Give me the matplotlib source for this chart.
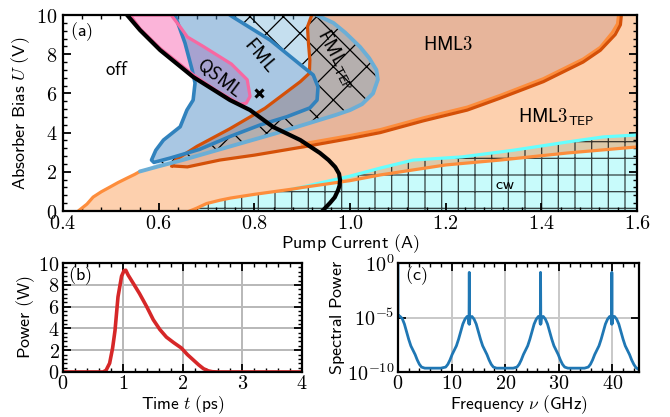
import numpy as np
import matplotlib
matplotlib.use("Agg")
import matplotlib.pyplot as plt
from matplotlib.patches import Polygon
from matplotlib.ticker import MultipleLocator, FixedLocator

plt.rcParams['mathtext.fontset'] = 'cm'
plt.rcParams['font.family'] = 'DejaVu Sans'
plt.rcParams['hatch.linewidth'] = 0.9

# ---------------- panel (a) data ----------------
# left (orange) branch of HML3_TEP boundary
tep_left_x = [0.432, 0.45, 0.463, 0.48, 0.498, 0.515, 0.534, 0.55, 0.561]
tep_left_y = [0.0, 0.35, 0.71, 0.98, 1.22, 1.45, 1.68, 1.87, 2.02]
# lower orange boundary of HML3_TEP
tep_low_x = [0.665, 0.68, 0.70, 0.728, 0.75, 0.8, 0.88, 0.9, 1.0, 1.063, 1.2, 1.314, 1.454, 1.6]
tep_low_y = [0.0, 0.15, 0.38, 0.55, 0.66, 0.85, 1.12, 1.2, 1.55, 1.84, 2.35, 2.6, 2.96, 3.27]
# upper orange boundary of HML3_TEP (next to HML3 edge)
tep_up_x = [0.9, 1.0, 1.063, 1.153, 1.245, 1.314, 1.404, 1.487, 1.523, 1.548, 1.559, 1.561]
tep_up_y = [3.42, 3.85, 4.15, 4.75, 5.3, 5.9, 6.75, 7.75, 8.35, 9.1, 9.55, 10.0]
# cyan boundary of cw region
cw_x = [0.88, 0.9, 0.95, 1.0, 1.063, 1.132, 1.234, 1.341, 1.454, 1.529, 1.6]
cw_y = [1.12, 1.22, 1.5, 1.78, 2.19, 2.6, 2.76, 3.1, 3.52, 3.78, 3.88]
# FML_TEP outline: tip -> lower edge -> right edge -> top
fmltep_x = [0.561, 0.6, 0.65, 0.75, 0.85, 0.93, 0.97, 1.0, 1.025, 1.048, 1.058, 1.055, 1.04, 1.021, 0.99, 0.965, 0.93]
fmltep_y = [2.02, 2.28, 2.6, 3.3, 4.0, 4.6, 4.9, 5.15, 5.45, 6.0, 6.7, 7.2, 7.8, 8.37, 9.1, 9.6, 10.0]
# FML outline (closed)
fml_x = [0.634, 0.655, 0.670, 0.676, 0.672, 0.659, 0.645, 0.61, 0.594, 0.585, 0.59, 0.624, 0.686,
         0.749, 0.812, 0.868, 0.916, 0.931, 0.933, 0.923, 0.902, 0.833, 0.755, 0.749]
fml_y = [10.0, 8.57, 7.19, 6.53, 5.66, 5.15, 4.3, 3.62, 3.1, 2.6, 2.48, 2.7, 3.15,
         3.8, 4.39, 4.81, 5.26, 5.66, 6.33, 6.94, 7.35, 8.72, 9.9, 10.0]
# HML3 boundary (dark orange): lower/right edge and upper/left edge
hml3_low_x = [0.628, 0.66, 0.728, 0.8, 0.902, 1.0, 1.063, 1.153, 1.245, 1.314, 1.404, 1.487, 1.523, 1.554, 1.565, 1.567]
hml3_low_y = [2.3, 2.25, 2.6, 2.85, 3.27, 3.7, 4.0, 4.6, 5.15, 5.76, 6.6, 7.6, 8.2, 9.0, 9.5, 10.0]
hml3_up_x = [0.92, 0.911, 0.913, 0.916, 0.915, 0.896, 0.822, 0.749, 0.68, 0.635, 0.628]
hml3_up_y = [10.0, 9.4, 8.56, 7.7, 7.03, 6.6, 5.24, 4.2, 3.3, 2.6, 2.3]
# QSML region (closed)
qsml_x = [0.54, 0.626, 0.645, 0.66, 0.693, 0.752, 0.785, 0.791, 0.783, 0.77, 0.72, 0.672, 0.603, 0.561]
qsml_y = [10.0, 10.0, 9.39, 8.88, 8.4, 7.5, 6.7, 5.85, 5.5, 5.45, 6.15, 6.95, 8.3, 9.3]
# black curve
black_x = [0.534, 0.561, 0.603, 0.672, 0.749, 0.791, 0.839, 0.896, 0.937, 0.955, 0.969, 0.977, 0.979, 0.978, 0.975, 0.968, 0.958, 0.942]
black_y = [10.0, 9.23, 8.21, 6.84, 5.66, 5.15, 4.29, 3.62, 2.96, 2.6, 2.24, 1.9, 1.58, 1.3, 1.07, 0.7, 0.41, 0.0]
# marked operating point
mark_x, mark_y = 0.81, 6.0

a_xticks = [0.4, 0.6, 0.8, 1.0, 1.2, 1.4, 1.6]
a_xticklabels = ['$0.4$', '$0.6$', '$0.8$', '$1.0$', '$1.2$', '$1.4$', '$1.6$']
a_yticks = [0, 2, 4, 6, 8, 10]
a_yticklabels = ['$0$', '$2$', '$4$', '$6$', '$8$', '$10$']

# ---------------- panel (b) data ----------------
t_ps = [0, 0.5, 0.67, 0.72, 0.78, 0.83, 0.87, 0.92, 0.98, 1.02, 1.05, 1.09, 1.18, 1.28, 1.4,
        1.51, 1.62, 1.73, 1.85, 1.98, 2.08, 2.18, 2.27, 2.35, 2.43, 2.5, 2.6, 3.0, 4.0]
power_W = [0, 0, 0, 0.15, 0.8, 2.2, 3.8, 6.9, 8.8, 9.3, 9.35, 8.9, 8.1, 7.2, 6.0,
           4.8, 3.9, 3.2, 2.7, 2.2, 1.6, 1.1, 0.65, 0.3, 0.1, 0.02, 0, 0, 0]
b_xticks = [0, 1, 2, 3, 4]
b_xticklabels = ['$0$', '$1$', '$2$', '$3$', '$4$']
b_yticks = [0, 2, 4, 6, 8, 10]
b_yticklabels = ['$0$', '$2$', '$4$', '$6$', '$8$', '$10$']

# ---------------- panel (c) data ----------------
freq_GHz = [0.0, 0.0, 0.1, 0.4, 0.8, 1.2, 1.6, 2.0, 2.4, 2.8, 3.2, 3.6, 4.0, 4.4, 5.0, 6.0, 7.0, 8.0,
            8.9, 9.3, 9.7, 10.1, 10.5, 10.9, 11.3, 11.7, 12.1, 12.5, 12.9, 13.15, 13.25, 13.3, 13.35, 13.45,
            13.8, 14.2, 14.6, 15.0, 15.4, 15.8, 16.2, 16.6, 17.0, 17.4, 17.8, 18.4, 19.5, 20.5, 21.5,
            22.2, 22.6, 23.0, 23.4, 23.8, 24.2, 24.6, 25.0, 25.4, 25.8, 26.2, 26.45, 26.55, 26.6, 26.65, 26.75,
            27.1, 27.5, 27.9, 28.3, 28.7, 29.1, 29.5, 29.9, 30.3, 30.7, 31.1, 31.7, 32.8, 33.8, 34.8,
            35.5, 35.9, 36.3, 36.7, 37.1, 37.5, 37.9, 38.3, 38.7, 39.1, 39.5, 39.75, 39.85, 39.9, 39.95, 40.05,
            40.4, 40.8, 41.2, 41.6, 42.0, 42.4, 42.8, 43.2, 43.6, 44.0, 44.4, 45.0]
log10_power = [0.0, -4.8, -4.8, -4.9, -5.1, -5.6, -6.3, -7.0, -7.6, -8.0, -8.4, -8.9, -9.3, -9.55, -9.65, -9.65, -9.65, -9.65,
               -9.55, -9.3, -8.9, -8.4, -8.0, -7.6, -7.0, -6.3, -5.6, -5.15, -4.9, -4.95, -5.6, -0.85, -5.6, -5.0,
               -4.9, -5.15, -5.6, -6.3, -7.0, -7.6, -8.0, -8.4, -8.9, -9.3, -9.55, -9.65, -9.65, -9.65, -9.65,
               -9.55, -9.3, -8.9, -8.4, -8.0, -7.6, -7.0, -6.3, -5.6, -5.15, -4.9, -4.95, -5.6, -0.85, -5.6, -5.0,
               -4.9, -5.15, -5.6, -6.3, -7.0, -7.6, -8.0, -8.4, -8.9, -9.3, -9.55, -9.65, -9.65, -9.65, -9.65,
               -9.55, -9.3, -8.9, -8.4, -8.0, -7.6, -7.0, -6.3, -5.6, -5.15, -4.9, -4.95, -5.6, -0.85, -5.6, -5.0,
               -4.9, -5.15, -5.6, -6.3, -7.0, -7.6, -8.0, -8.4, -8.9, -9.3, -9.6, -9.8]
c_xticks = [0, 10, 20, 30, 40]
c_xticklabels = ['$0$', '$10$', '$20$', '$30$', '$40$']
c_yticks = [1e-10, 1e-5, 1e0]
c_yticklabels = ['$10^{-10}$', '$10^{-5}$', '$10^{0}$']

# ---------------- colours ----------------
C_PEACH = '#fdd0ae'
C_SALMON = '#e7b59b'
C_CWFILL = '#c8fbfb'
C_BAND = '#dcc9a9'
C_ORANGE = '#fd8d3c'
C_DORANGE = '#d45008'
C_CYAN = '#66ffff'
C_FML = '#5591c9'
C_FMLTEP = '#59a6d3'
C_FMLTEP_LINE = '#6baed6'
C_FML_LINE = '#3182bd'
C_PINKFILL = '#fbb4d9'
C_PINKLINE = '#f768a1'

FS_LAB = 13
FS_LAB_LOW = 12.5
FS_TICK = 14.5
FS_REG = 13.5

fig = plt.figure(figsize=(6.7, 4.17), dpi=100)
axA = fig.add_axes([0.094, 0.494, 0.857, 0.470])
axB = fig.add_axes([0.094, 0.108, 0.357, 0.261])
axC = fig.add_axes([0.594, 0.108, 0.360, 0.261])

def pts(xs, ys):
    return np.column_stack([np.asarray(xs, float), np.asarray(ys, float)])

def add_poly(ax, xy, **kw):
    p = Polygon(xy, closed=True, **kw)
    ax.add_patch(p)
    return p

LW = 2.3
# HML3_TEP region (peach)
peach_xy = np.vstack([pts(tep_left_x, tep_left_y), pts(fmltep_x, fmltep_y),
                      pts([1.6, 1.6], [10.0, 3.27]), pts(tep_low_x[::-1], tep_low_y[::-1])])
add_poly(axA, peach_xy, facecolor=C_PEACH, edgecolor='none', zorder=1)

# cw region (cyan, grid hatched)
ncw_low = tep_low_x.index(0.88)
cw_xy = np.vstack([pts(tep_low_x[:ncw_low], tep_low_y[:ncw_low]), pts(cw_x, cw_y), pts([1.6], [0.0])])
add_poly(axA, cw_xy, facecolor=C_CWFILL, edgecolor='none', zorder=1.2)
band_xy = np.vstack([pts(cw_x, cw_y), pts(tep_low_x[:ncw_low - 1:-1], tep_low_y[:ncw_low - 1:-1])])
add_poly(axA, band_xy, facecolor=C_BAND, edgecolor='none', zorder=1.3)
add_poly(axA, cw_xy, facecolor='none', edgecolor=(0, 0, 0, 0.75), hatch='+', linewidth=0, zorder=1.4)

# HML3 region
hml3_xy = np.vstack([pts(hml3_low_x, hml3_low_y), pts(hml3_up_x, hml3_up_y)])
add_poly(axA, hml3_xy, facecolor=C_SALMON, edgecolor='none', zorder=2)

# QSML region
qsml_xy = pts(qsml_x, qsml_y)
add_poly(axA, qsml_xy, facecolor=C_PINKFILL, edgecolor='none', zorder=3)

# FML_TEP region (lower/right outline + FML edge)
fml_xy = pts(fml_x, fml_y)
fmltep_xy = np.vstack([pts(fmltep_x, fmltep_y), pts([0.745], [10.0]), fml_xy[:10:-1][1:]])
add_poly(axA, fmltep_xy, facecolor=C_FMLTEP, alpha=0.35, edgecolor='none', zorder=4)
add_poly(axA, fmltep_xy, facecolor='none', edgecolor='black', hatch='x', linewidth=0, zorder=4.1)

# FML region
add_poly(axA, fml_xy, facecolor=C_FML, alpha=0.5, edgecolor='none', zorder=5)

# boundary lines
axA.plot(tep_left_x, tep_left_y, color=C_ORANGE, lw=LW, zorder=6, solid_capstyle='round')
axA.plot(tep_low_x, tep_low_y, color=C_ORANGE, lw=LW, zorder=6.2)
axA.plot(cw_x, cw_y, color=C_CYAN, lw=LW, zorder=6.1)
axA.plot(tep_up_x, tep_up_y, color=C_ORANGE, lw=LW, zorder=6)
axA.plot(hml3_low_x, hml3_low_y, color=C_DORANGE, lw=LW, zorder=6.3)
axA.plot(hml3_up_x, hml3_up_y, color=C_DORANGE, lw=LW, zorder=6.3)
axA.plot(fmltep_x, fmltep_y, color=C_FMLTEP_LINE, lw=LW + 0.5, zorder=6.5, solid_capstyle='round')
axA.plot(fml_x, fml_y, color=C_FML_LINE, lw=LW + 0.3, zorder=6.6)
axA.plot(np.append(qsml_x, qsml_x[0]), np.append(qsml_y, qsml_y[0]), color=C_PINKLINE, lw=LW, zorder=6.7)
axA.plot(black_x, black_y, color='black', lw=3.0, zorder=7)
axA.plot([mark_x], [mark_y], marker='x', color='black', ms=6, mew=2.2, zorder=8)

def sf(s):
    return r'$\mathsf{' + s + '}$'

tkw = dict(ha='center', va='center', fontsize=FS_REG, zorder=9)
axA.text(0.513, 7.2, sf('off'), **tkw)
axA.text(0.812, 7.96, sf('FML'), rotation=-50, **tkw)
axA.text(0.728, 6.78, sf('QSML'), rotation=-37, **tkw)
axA.text(0.972, 7.75, sf(r'FML_{TEP}'), rotation=-62, **tkw)
axA.text(1.205, 8.47, sf('HML3'), **tkw)
axA.text(1.43, 4.8, sf(r'HML3_{TEP}'), **tkw)
axA.text(1.324, 1.35, sf('cw'), ha='center', va='center', fontsize=11.5, zorder=9)

axA.set_xlim(0.4, 1.6)
axA.set_ylim(0, 10)
axA.set_xticks(a_xticks, a_xticklabels)
axA.set_yticks(a_yticks, a_yticklabels)
axA.xaxis.set_minor_locator(MultipleLocator(0.04))
axA.yaxis.set_minor_locator(MultipleLocator(0.4))
axA.set_xlabel(sf(r'Pump\ Current\ (A)'), fontsize=FS_LAB, labelpad=-1)
axA.set_ylabel(sf(r'Absorber\ Bias') + r'$\ U\ $' + sf('(V)'), fontsize=FS_LAB, labelpad=3)
axA.text(0.012, 0.975, sf('(a)'), transform=axA.transAxes, ha='left', va='top', fontsize=FS_LAB, zorder=10)

# ---------------- panel (b) ----------------
axB.plot(t_ps, power_W, color='#d62728', lw=2.6, zorder=3)
axB.set_xlim(0, 4)
axB.set_ylim(0, 10)
axB.set_xticks(b_xticks, b_xticklabels)
axB.set_yticks(b_yticks, b_yticklabels)
axB.xaxis.set_minor_locator(MultipleLocator(0.2))
axB.yaxis.set_minor_locator(MultipleLocator(0.4))
axB.grid(True, which='major', color='#b8b8b8', lw=1.4, zorder=0)
axB.set_axisbelow(True)
axB.set_xlabel(sf('Time') + r'$\ t\ $' + sf('(ps)'), fontsize=FS_LAB_LOW, labelpad=0.5)
axB.set_ylabel(sf(r'Power\ (W)'), fontsize=FS_LAB, labelpad=1)
axB.text(0.02, 0.985, sf('(b)'), transform=axB.transAxes, ha='left', va='top', fontsize=FS_LAB)

# ---------------- panel (c) ----------------
axC.semilogy(freq_GHz, 10.0 ** np.asarray(log10_power), color='#1f77b4', lw=2.0, zorder=3)
axC.set_xlim(0, 45)
axC.set_ylim(1e-10, 1e0)
axC.set_xticks(c_xticks, c_xticklabels)
axC.yaxis.set_major_locator(FixedLocator(c_yticks))
axC.set_yticks(c_yticks, c_yticklabels)
axC.yaxis.set_minor_locator(FixedLocator([]))
axC.xaxis.set_minor_locator(MultipleLocator(2))
axC.grid(True, which='major', color='#c8c8c8', lw=1.4, zorder=0)
axC.set_axisbelow(True)
axC.set_xlabel(sf('Frequency') + r'$\ \nu\ $' + sf('(GHz)'), fontsize=FS_LAB_LOW, labelpad=0.5)
axC.set_ylabel(sf(r'Spectral\ Power'), fontsize=FS_LAB, labelpad=0)
axC.text(0.03, 0.985, sf('(c)'), transform=axC.transAxes, ha='left', va='top', fontsize=FS_LAB)

for ax in (axA, axB, axC):
    ax.tick_params(which='both', direction='in', top=True, right=True, labelsize=FS_TICK, pad=2.5)
    ax.tick_params(which='major', length=6, width=1.3)
    ax.tick_params(which='minor', length=3, width=1.0)
    for s in ax.spines.values():
        s.set_linewidth(1.6)
        s.set_zorder(20)
axA.tick_params(axis='y', pad=4)
axB.tick_params(axis='x', pad=1.5)
axC.tick_params(axis='x', pad=1.5)

fig.savefig('out.png', dpi=100)
